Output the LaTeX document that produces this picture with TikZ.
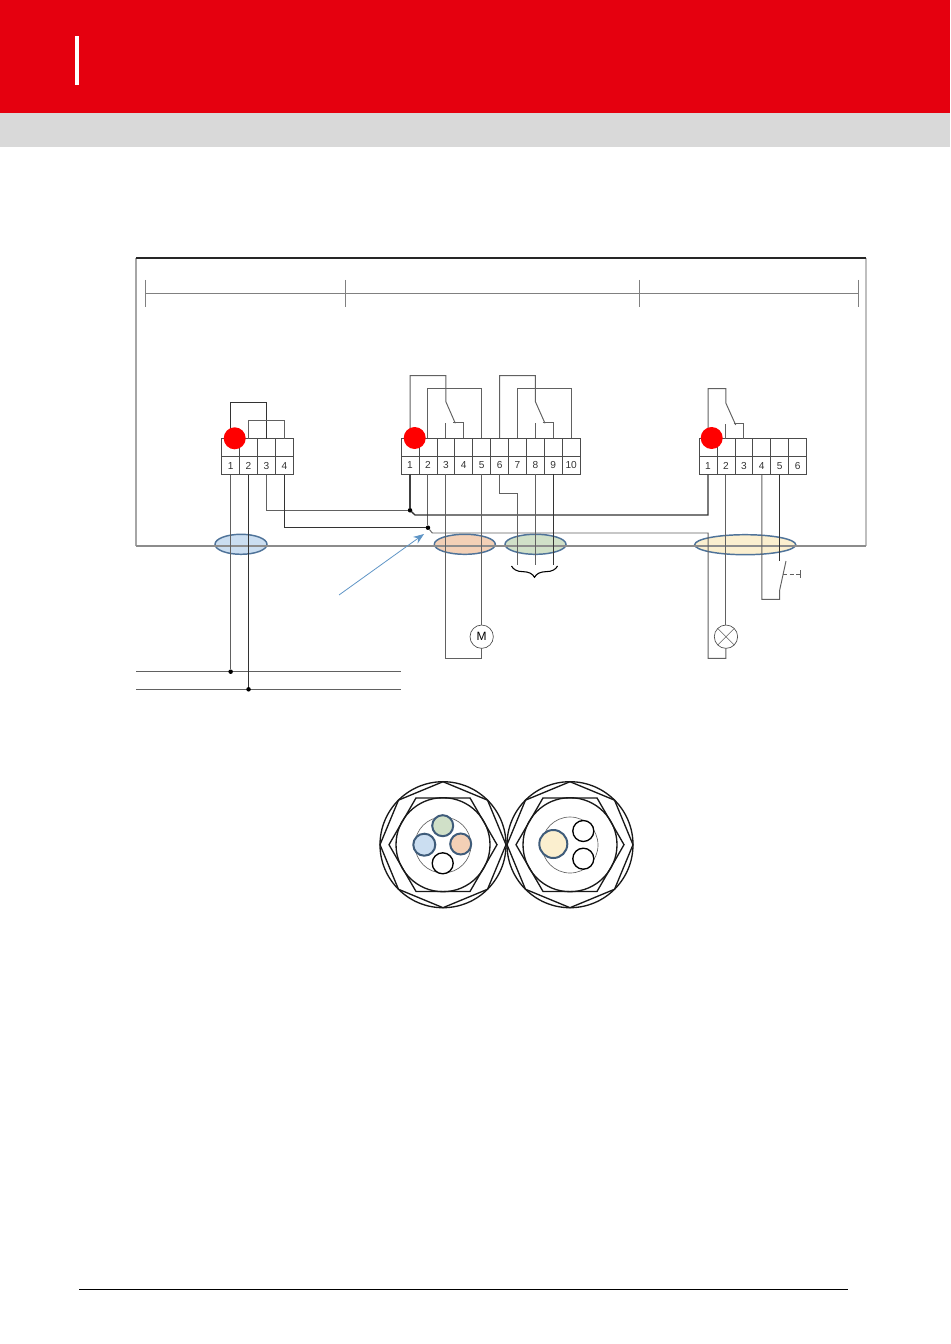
\documentclass[tikz,border=0pt]{standalone}
\usepackage{fontspec}
\setmainfont{Liberation Sans}
\usetikzlibrary{arrows,arrows.meta,calc,positioning,decorations.pathreplacing}
\usetikzlibrary{matrix}
\usetikzlibrary{shapes.geometric}
\definecolor{headred}{HTML}{E5000F}
\definecolor{headgray}{HTML}{D9D9D9}
\definecolor{markred}{HTML}{FF0000}
\definecolor{ringblue}{HTML}{4F7399}
\definecolor{arrowblue}{HTML}{5F95C6}
\definecolor{coreblue}{HTML}{CBDEF1}
\definecolor{coreorange}{HTML}{F3D0B6}
\definecolor{coregreen}{HTML}{D0E0C8}
\definecolor{coreyellow}{HTML}{FBEFCF}

\begin{document}
\begin{tikzpicture}[
    x=0.75pt, y=-0.75pt,
    nosep/.style={inner sep=0, outer sep=0},
    strip/.style={
        matrix of nodes,
        anchor=north west,
        nosep,
        row sep=-0.6pt,
        column sep=-0.6pt,
        nodes in empty cells,
        nodes={rectangle, draw=black!70, line width=0.6pt, nosep, minimum width=13.43pt, minimum height=13.5pt, font=\fontsize{7.6}{8}\selectfont, text=black!80}},
    wire/.style={draw=black!62, line width=0.72pt},
    darkwire/.style={draw=black!80, line width=0.85pt},
    heavywire/.style={draw=black!75, line width=1.2pt},
    framegray/.style={draw=black!45, line width=0.9pt},
    redmark/.style={circle, nosep, fill=markred, minimum size=16.5pt},
    dot/.style={circle, nosep, fill=black, minimum size=3.4pt},
    bundle/.style={ellipse, nosep, draw=ringblue, line width=1.1pt, minimum height=15pt},
    load/.style={circle, nosep, draw=black!70, line width=0.5pt, fill=white, minimum size=17.5pt, font=\fontsize{9}{10}\selectfont},
    gland/.style={nosep, draw=black!90, line width=1pt},
    core/.style={circle, nosep, draw=black, line width=1pt, fill=white, minimum size=15.75pt},
    coreb/.style={core, draw=ringblue!80!black, line width=1.5pt}
]
\useasboundingbox (0,0) rectangle (950,1344);

% header
\fill[headred] (0,0) rectangle (950,113);
\fill[headgray] (0,113) rectangle (950,147.5);
\fill[white] (75,36) rectangle (79,85);
\draw[black, line width=0.8pt] (79,1289.5) -- (848,1289.5);

% cable bundles
\node[bundle, fill=coreblue, minimum width=39pt] (bundleA) at (241,544.3) {};
\node[bundle, fill=coreorange, minimum width=45.75pt] (bundleB) at (464.8,544.3) {};
\node[bundle, fill=coregreen, minimum width=45.75pt] (bundleC) at (535.5,544.3) {};
\node[bundle, fill=coreyellow, minimum width=75.75pt] (bundleD) at (745.2,544.7) {};

% housing
\draw[framegray, draw=black!35] (136,258) -- (136,546);
\draw[framegray, draw=black!25] (866,258) -- (866,546);
\draw[framegray, line width=1.1pt] (136,546) -- (866,546);
\draw[black!85, line width=1.1pt] (136,258) -- (866,258);

% zones
\draw[wire, draw=black!50] (145,293.5) -- (858,293.5);
\foreach \tx in {145,345,639,858}
    \draw[wire, draw=black!50, line width=0.5pt] (\tx,280) -- (\tx,307);

% terminal strips
\matrix (stripA) [strip, ampersand replacement=\&] at (221.3,438.3) {
     \&   \&   \&   \\
   1 \& 2 \& 3 \& 4 \\
};
\matrix (stripB) [strip, ampersand replacement=\&] at (400.7,437.5) {
     \&   \&   \&   \&   \&   \&   \&   \&   \&    \\
   1 \& 2 \& 3 \& 4 \& 5 \& 6 \& 7 \& 8 \& 9 \& 10 \\
};
\matrix (stripC) [strip, ampersand replacement=\&] at (698.7,438.3) {
     \&   \&   \&   \&   \&   \\
   1 \& 2 \& 3 \& 4 \& 5 \& 6 \\
};

% mains
\coordinate (busAw) at (136,671.7);
\coordinate (busAe) at (401,671.7);
\coordinate (busBw) at (136,689.3);
\coordinate (busBe) at (401,689.3);
\draw[wire] (busAw) -- (busAe);
\draw[wire] (busBw) -- (busBe);
\node[dot] (busdotA) at (stripA-2-1 |- busAw) {};
\node[dot] (busdotB) at (stripA-2-2 |- busBw) {};
\draw[wire] (stripA-2-1.south) -- (busdotA);
\draw[darkwire] (stripA-2-2.south) -- (busdotB);

% strip A links
\draw[darkwire] (stripA-1-1.north) -- ++(0,-36) -| (stripA-1-3.north);
\draw[wire] (stripA-1-2.north) -- ++(0,-18) -| (stripA-1-4.north);

% junctions
\node[dot] (jointA) at (stripB-2-1 |- 0,510.3) {};
\node[dot] (jointB) at (stripB-2-2 |- 0,527.7) {};
\coordinate (bendA) at (415,515);
\coordinate (bendB) at (432.3,533);
\coordinate (lampbase) at (stripC-2-1 |- 0,658.3);
\coordinate (motorbase) at (stripB-2-3 |- 0,658.3);
\draw[wire] (stripA-2-3.south) |- (jointA);
\draw[darkwire] (stripA-2-4.south) |- (jointB);
\draw[heavywire, line width=0.9pt] (stripB-2-1.south) -- (jointA);
\draw[wire] (stripB-2-2.south) -- (jointB);
\draw[darkwire, line width=1pt] (jointA) -- (bendA) -| (stripC-2-1.south);

% loads
\node[load] (motor) at (stripB-2-5 |- 0,636.7) {M};
\node[load] (lamp) at (stripC-2-2 |- 0,636.7) {};
\draw[wire, line width=0.4pt] (lamp.north west) -- (lamp.south east);
\draw[wire, line width=0.4pt] (lamp.north east) -- (lamp.south west);
\draw[wire] (jointB) -- (bendB) -| (lampbase) -| (lamp.south);
\draw[wire] (stripC-2-2.south) -- (lamp.north);
\draw[wire] (stripB-2-3.south) -- (motorbase) -| (motor.south);
\draw[wire] (stripB-2-5.south) -- (motor.north);

% strip B relays
\coordinate (pivotB) at (stripB-1-3 |- 0,401.7);
\coordinate (tipB) at (455.3,423.3);
\coordinate (barB) at (453,422.5);
\draw[wire] (stripB-1-1.north) -- ++(0,-62.2) -| (pivotB) -- (tipB);
\draw[wire] (barB) -| (stripB-1-4.north);
\draw[wire] (stripB-1-3.north) -- ++(0,-15) coordinate (stubB);
\draw[wire] (stripB-1-2.north) -- ++(0,-49.2) -| (stripB-1-5.north);
\coordinate (pivotC) at (stripB-1-8 |- 0,401.7);
\coordinate (tipC) at (545,423.3);
\coordinate (barC) at (542.6,422.5);
\draw[wire] (stripB-1-6.north) -- ++(0,-62.2) -| (pivotC) -- (tipC);
\draw[wire] (barC) -| (stripB-1-9.north);
\draw[wire] (stripB-1-8.north) -- ++(0,-15) coordinate (stubC);
\draw[wire] (stripB-1-7.north) -- ++(0,-49.2) -| (stripB-1-10.north);

% strip B outputs
\coordinate (endC) at (stripB-2-7 |- 0,565);
\draw[wire] (stripB-2-6.south) -- ++(0,19.4) -| (endC);
\draw[wire] (stripB-2-8.south) -- (stripB-2-8 |- endC);
\draw[darkwire, line width=0.7pt] (stripB-2-9.south) -- (stripB-2-9 |- endC);
\coordinate (braceL) at (511.5,566);
\coordinate (braceR) at (557.5,566);
\draw[black, line width=0.8pt, decorate, decoration={brace, mirror, amplitude=8.5pt}] (braceL) -- (braceR);

% strip C relay
\coordinate (pivotD) at (stripC-1-2 |- 0,403.3);
\coordinate (tipD) at (735.7,425);
\coordinate (barD) at (733.5,423.3);
\draw[wire] (stripC-1-1.north) -- ++(0,-50) -| (pivotD) -- (tipD);
\draw[wire] (barD) -| (stripC-1-3.north);
\draw[wire] (stripC-1-2.north) -- ++(0,-15) coordinate (stubD);

% push button
\coordinate (btnbase) at (stripC-2-4 |- 0,599.3);
\coordinate (btnlow) at (stripC-2-5 |- 0,590);
\coordinate (btnhigh) at (786,561);
\coordinate (btnfix) at (stripC-2-5 |- btnhigh);
\coordinate (btnmid) at (783,574.3);
\coordinate (btnend) at (800.7,574.3);
\draw[wire] (stripC-2-4.south) -- (btnbase) -- (btnbase -| btnlow) -- (btnlow) -- (btnhigh);
\draw[darkwire] (stripC-2-5.south) -- (btnfix);
\draw[wire, line width=0.4pt, densely dashed] (btnmid) -- (btnend);
\draw[wire, line width=0.5pt] ($(btnend)+(0,-4)$) -- ($(btnend)+(0,4)$);

% red marks
\node[redmark] (markA) at (234.7,438.3) {};
\node[redmark] (markB) at (414.7,438) {};
\node[redmark] (markC) at (711.7,438) {};

% arrow
\coordinate (arrowfrom) at (339,595);
\coordinate (arrowto) at (424,534);
\draw[-{Stealth[length=8pt,width=6pt]}, arrowblue, line width=0.6pt] (arrowfrom) -- (arrowto);

% glands
\foreach \gx/\gname in {443/glandL,570/glandR}{
    \node[gland, circle, minimum size=94.5pt] (\gname outer) at (\gx,844.7) {};
    \node[gland, regular polygon, regular polygon sides=8, shape border rotate=22.5, minimum size=94.5pt] (\gname oct) at (\gx,844.7) {};
    \node[gland, regular polygon, regular polygon sides=6, minimum size=81pt] (\gname hex) at (\gx,844.7) {};
    \node[gland, circle, minimum size=70.5pt] (\gname inner) at (\gx,844.7) {};
    \node[gland, circle, draw=black!60, line width=0.5pt, minimum size=42pt] (\gname cable) at (\gx,845) {};
}
\node[coreb, fill=coregreen] (coreG) at (442.7,825.7) {};
\node[coreb, fill=coreblue, minimum size=16.5pt] (coreB) at (424.3,844.7) {};
\node[coreb, fill=coreorange] (coreO) at (460.7,844) {};
\node[core] (coreW) at (442.7,863.3) {};
\node[coreb, fill=coreyellow, minimum size=21pt] (coreY) at (553.3,844) {};
\node[core] (coreT) at (583.3,831) {};
\node[core] (coreU) at (583.3,858.7) {};

\end{tikzpicture}
\end{document}
